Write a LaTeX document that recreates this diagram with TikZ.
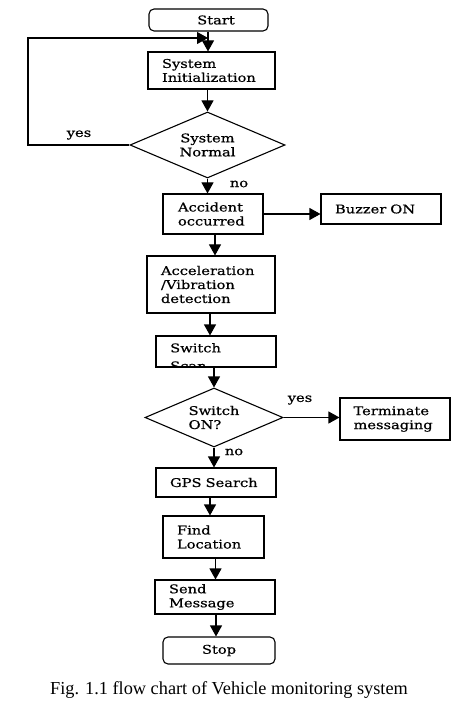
\documentclass[tikz,border=0pt]{standalone}
\usepackage{fontspec}
\setmainfont{Liberation Serif}
\newfontfamily\boxfont[FakeStretch=1.22,FakeBold=0.6]{DejaVu Serif}
\usetikzlibrary{shapes.geometric,arrows.meta}
\begin{document}
\begin{tikzpicture}[x=1pt,y=-1pt,
  every node/.style={font=\boxfont\fontsize{12}{14}\selectfont},
  box/.style={draw,line width=1.1pt,rectangle,inner ysep=0pt,align=left},
  term/.style={draw,line width=1.1pt,rectangle,rounded corners=5pt,inner sep=0pt,align=center},
  dec/.style={draw,line width=1.1pt,diamond,inner sep=0pt},
  arr/.style={line width=1.1pt,-{Triangle[width=12pt,length=11pt]}},
  lbl/.style={inner sep=0pt}]
\useasboundingbox (0,0) rectangle (468,708);
% nodes
\node[term,minimum width=119pt,minimum height=22pt] (start) at (208.5,20) {\hspace*{15pt}Start};
\node[box,minimum width=127pt,minimum height=37pt,text width=99pt,inner xsep=14pt] (init) at (211.5,70.5) {System\\Initialization};
\node[dec,aspect=2.35,minimum width=155pt,minimum height=66pt,align=center] (d1) at (207.5,145) {System\\Normal};
\node[box,minimum width=100pt,minimum height=40pt,text width=70pt,inner xsep=15pt] (acc) at (213,214) {Accident\\occurred};
\node[box,minimum width=120pt,minimum height=30pt,text width=92pt,inner xsep=14pt] (buz) at (381,209) {Buzzer ON\\[6pt]};
\node[box,minimum width=128pt,minimum height=57pt,text width=100pt,inner xsep=14pt] (accel) at (211,284.5) {Acceleration\\/Vibration\\detection\\[-6pt]};
\node[box,minimum width=120pt,minimum height=31pt] (scan) at (216,351.5) {};
\begin{scope}
  \clip (scan.south west) rectangle (scan.north east);
  \node[lbl,anchor=north west,align=left] (scantxt) at (170,343) {Switch\\[4pt]Scan};
\end{scope}
\node[dec,aspect=2.34,minimum width=138pt,minimum height=59pt,align=left] (d2) at (214,417.5) {Switch\\ON?};
\node[box,minimum width=110pt,minimum height=42pt,text width=83pt,inner xsep=13pt] (termn) at (395,419) {Terminate\\messaging\\[-6pt]};
\node[box,minimum width=120pt,minimum height=29pt,text width=92pt,inner xsep=14pt] (gps) at (216,482.5) {GPS Search\\[2pt]};
\node[box,minimum width=101pt,minimum height=42pt,text width=73pt,inner xsep=14pt] (find) at (213.5,537) {Find\\Location\\[-3pt]};
\node[box,minimum width=120pt,minimum height=34pt,text width=92pt,inner xsep=14pt] (send) at (215,597) {Send\\Message};
\node[term,minimum width=112pt,minimum height=27pt] (stop) at (219,650.5) {Stop};
% labels
\node[lbl] (yes1) at (79,135) {yes};
\node[lbl] (no1) at (239,184) {no};
\node[lbl] (yes2) at (300,400) {yes};
\node[lbl] (no2) at (234,452) {no};
\node[lbl,font=\rmfamily\fontsize{18.3}{20}\selectfont] (cap) at (229,690) {Fig. 1.1 flow chart of Vehicle monitoring system};
% connectors
\coordinate (loop) at (28,38);
\coordinate (merge) at (208,38);
\draw[line width=1.1pt] (start.south -| merge) -- (merge);
\draw[arr] (merge) -- (merge |- init.north);
\draw[arr] (d1.west) -| (loop) -- (merge);
\draw[arr] (d1.north |- init.south) -- (d1.north);
\draw[arr] (d1.south) -- (d1.south |- acc.north);
\draw[arr] (acc.east) -- (acc.east -| buz.west);
\draw[arr] ([xshift=2pt]acc.south) -- ([xshift=2pt]acc.south |- accel.north);
\draw[arr] ([xshift=-1pt]accel.south) -- ([xshift=-1pt]accel.south |- scan.north);
\draw[arr] (d2.north |- scan.south) -- (d2.north);
\draw[arr] (d2.east) -- (d2.east -| termn.west);
\draw[arr] (d2.south) -- (d2.south |- gps.north);
\draw[arr] ([xshift=-6pt]gps.south) -- ([xshift=-6pt]gps.south |- find.north);
\draw[arr] ([xshift=2pt]find.south) -- ([xshift=2pt]find.south |- send.north);
\draw[arr] ([xshift=1pt]send.south) -- ([xshift=1pt]send.south |- stop.north);
\end{tikzpicture}
\end{document}
